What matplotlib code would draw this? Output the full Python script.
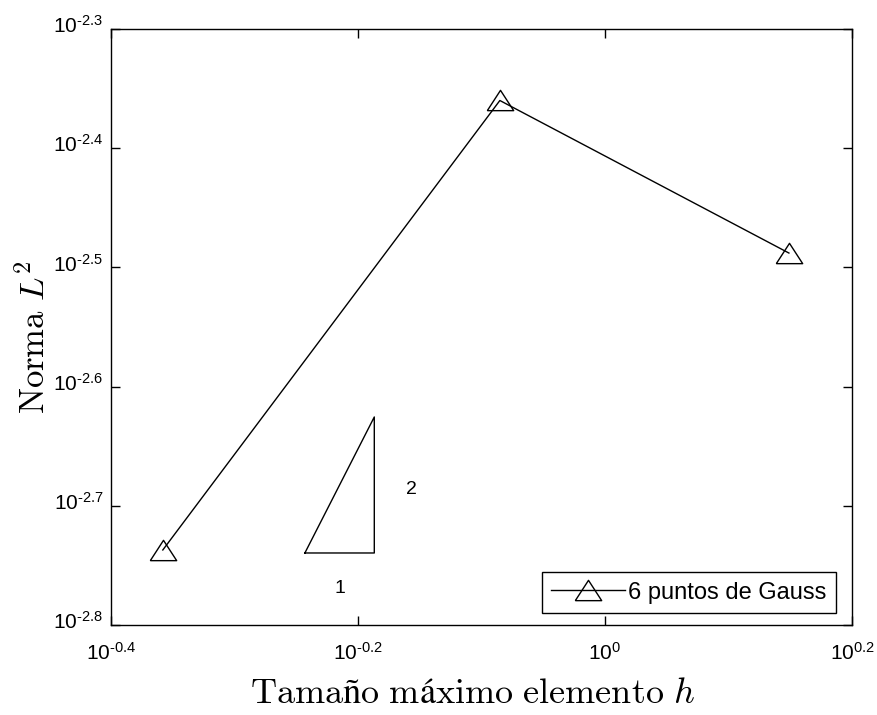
import matplotlib
matplotlib.use("Agg")
import matplotlib.pyplot as plt
import matplotlib.transforms as mtransforms

plt.rcParams["font.family"] = ["Liberation Sans", "DejaVu Sans"]
plt.rcParams["mathtext.fontset"] = "cm"

# data
h_vals = [0.4385, 0.822, 1.409]
l2_vals = [0.001832, 0.004365, 0.003251]

# slope triangle (order 2)
tri_x = [10 ** -0.243, 10 ** -0.1868, 10 ** -0.1868, 10 ** -0.243]
tri_y = [10 ** -2.7396, 10 ** -2.7396, 10 ** -2.6255, 10 ** -2.7396]

xticks = [10 ** -0.4, 10 ** -0.2, 10 ** 0, 10 ** 0.2]
xtick_labels = ["\u20100.4", "\u20100.2", "0", "0.2"]
yticks = [10 ** -2.8, 10 ** -2.7, 10 ** -2.6, 10 ** -2.5, 10 ** -2.4, 10 ** -2.3]
ytick_labels = ["\u20102.8", "\u20102.7", "\u20102.6", "\u20102.5", "\u20102.4", "\u20102.3"]

# flat MATLAB-like triangle marker
tri_marker = [(-1, -0.77), (1, -0.77), (0, 0.77), (-1, -0.77)]

fig = plt.figure(figsize=(8.78, 7.15), dpi=100)
ax = fig.add_axes([0.1264, 0.1259, 0.844, 0.8336])

ax.plot(
    h_vals,
    l2_vals,
    color="black",
    linewidth=1,
    marker=tri_marker,
    markersize=19,
    markerfacecolor="none",
    markeredgecolor="black",
    markeredgewidth=1,
    label="6 puntos de Gauss",
)
ax.plot(tri_x, tri_y, color="black", linewidth=1)

ax.set_xscale("log")
ax.set_yscale("log")
ax.set_xlim(10 ** -0.4, 10 ** 0.2)
ax.set_ylim(10 ** -2.8, 10 ** -2.3)

ax.set_xticks(xticks)
ax.set_xticklabels([r"$\mathregular{10^{%s}}$" % s for s in xtick_labels])
ax.set_yticks(yticks)
ax.set_yticklabels([r"$\mathregular{10^{%s}}$" % s for s in ytick_labels])
ax.minorticks_off()
ax.tick_params(direction="in", top=True, right=True, length=6.5, width=1, labelsize=15)
ax.tick_params(axis="y", pad=5.5)
ax.tick_params(axis="x", pad=12)
for sp in ax.spines.values():
    sp.set_linewidth(1)

# lift y tick labels so the "10" sits on the tick
offset = mtransforms.ScaledTranslation(0, 5 / 100, fig.dpi_scale_trans)
for lab in ax.get_yticklabels():
    lab.set_transform(lab.get_transform() + offset)

# slope labels
ax.text(10 ** -0.157, 10 ** -2.686, "2", fontsize=14, ha="center", va="center")
ax.text(10 ** -0.2146, 10 ** -2.769, "1", fontsize=14, ha="center", va="center")

ax.set_xlabel(r"$\mathrm{Tamaño\ máximo\ elemento}\ h$", fontsize=26)
ax.xaxis.label.set_verticalalignment("baseline")
ax.xaxis.set_label_coords(0.4885, -0.1309)

ax.set_ylabel(r"$\mathrm{Norma}\ L^2$", fontsize=25)
ax.yaxis.label.set_verticalalignment("baseline")
ax.yaxis.set_label_coords(-0.089, 0.483)

leg = ax.legend(
    loc="lower right",
    bbox_to_anchor=(0.9784, 0.0201),
    fontsize=17,
    fancybox=False,
    edgecolor="black",
    framealpha=1,
    handlelength=3.1,
    handletextpad=0.15,
    borderpad=0.4,
    borderaxespad=0,
)
leg.get_frame().set_linewidth(1)

fig.savefig("out.png", dpi=100)
